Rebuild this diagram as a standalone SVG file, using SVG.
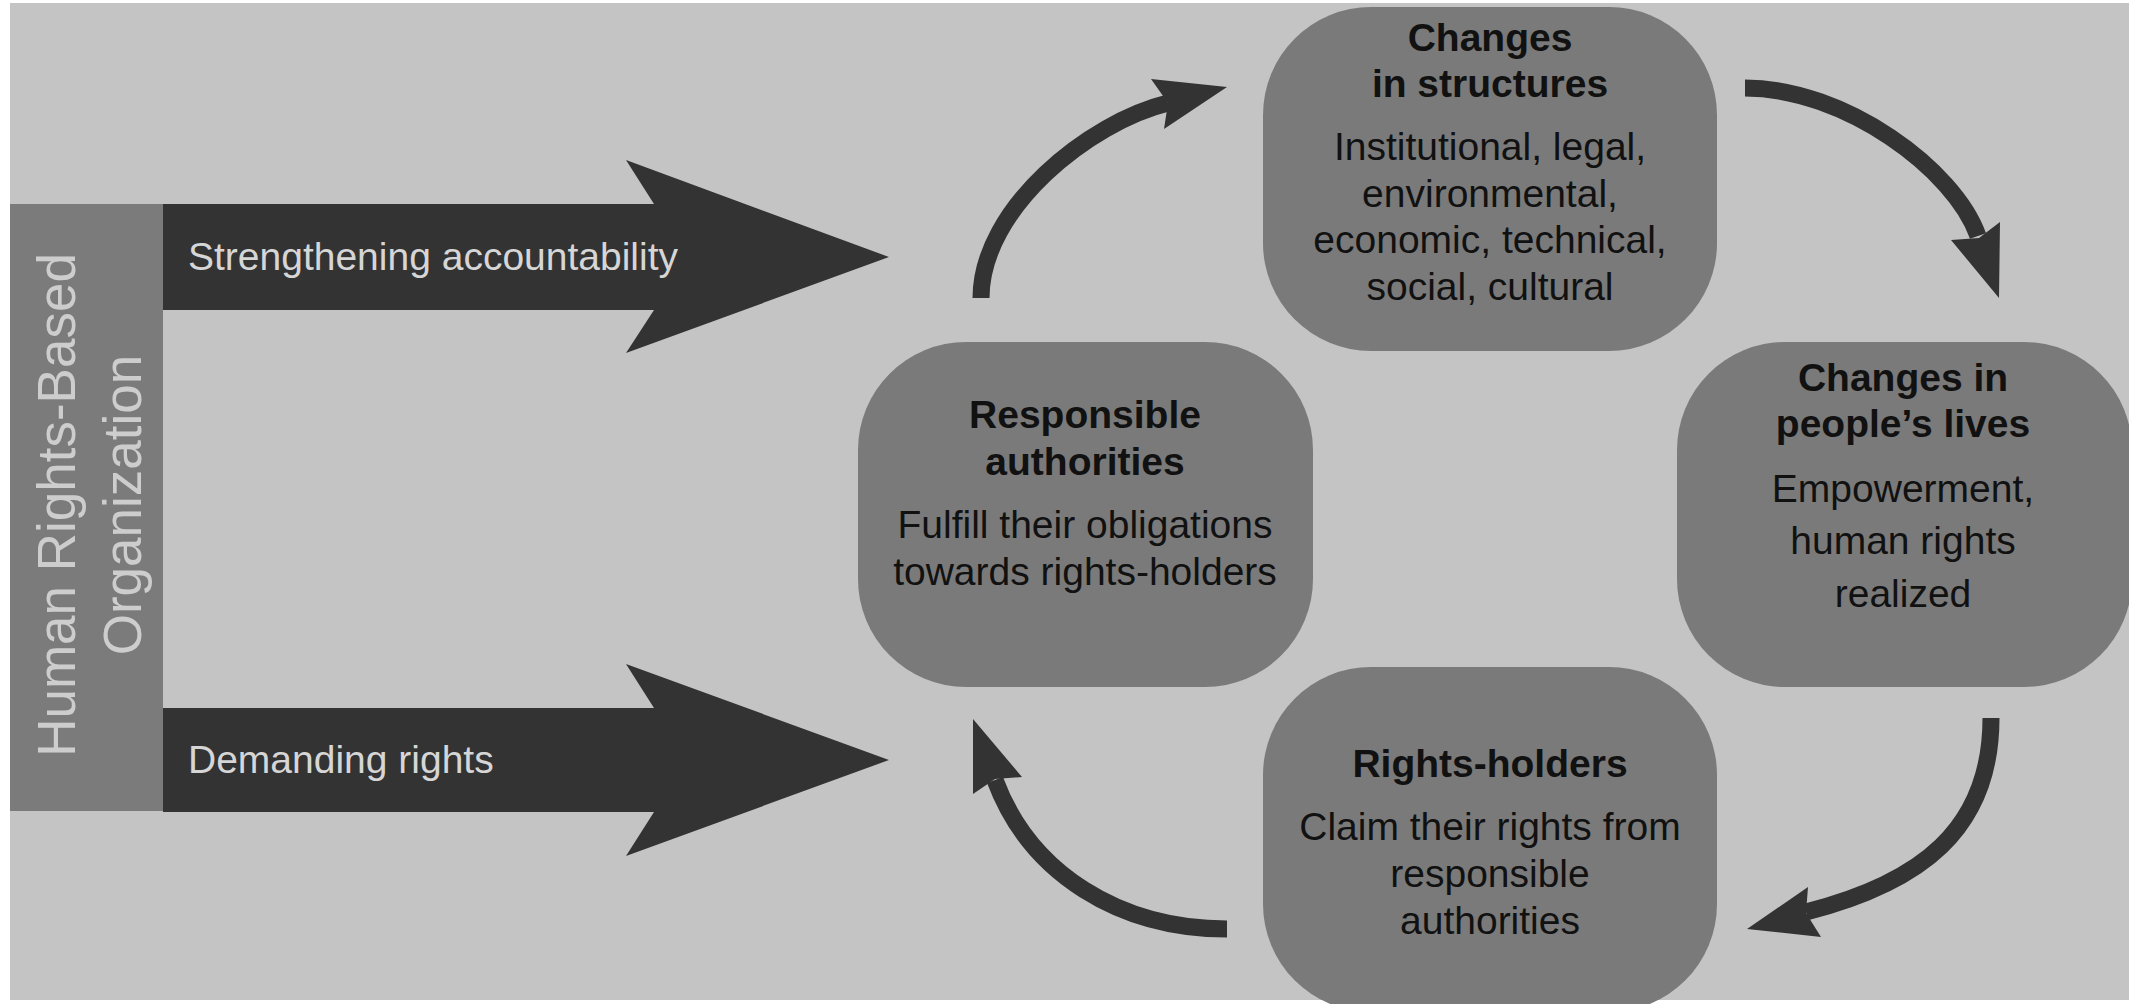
<svg xmlns="http://www.w3.org/2000/svg" width="2129" height="1004" viewBox="0 0 2129 1004">
<style>
.node{fill:#7a7a7a}
.title{font-family:"Liberation Sans",Arial,sans-serif;font-weight:bold;font-size:39px;fill:#111;text-anchor:middle}
.body{font-family:"Liberation Sans",Arial,sans-serif;font-size:39px;fill:#111;text-anchor:middle}
.big{fill:#333}
.bigtext{font-family:"Liberation Sans",Arial,sans-serif;font-size:39px;fill:#d6d6d6}
.shaft{fill:none;stroke:#333;stroke-width:17;stroke-linecap:butt}
.head{fill:#333}
.org{font-family:"Liberation Sans",Arial,sans-serif;font-size:53px;fill:#cdcdcd;text-anchor:middle}
</style>
<rect x="0" y="0" width="2129" height="1004" fill="#ffffff"/>
<rect x="10" y="3" width="2119" height="997" fill="#c4c4c4"/>

<g id="org">
<rect x="10" y="204" width="153" height="607" fill="#7b7b7b"/>
<g transform="translate(0,505) rotate(-90)">
<text class="org" x="0" y="75">Human Rights-Based</text>
<text class="org" x="0" y="141">Organization</text>
</g>
</g>

<g id="strengthening">
<polygon class="big" points="163,204 654,204 626,160 889,257 626,353 654,310 163,310"/>
<text class="bigtext" x="188" y="270">Strengthening accountability</text>
</g>

<g id="demanding">
<polygon class="big" points="163,708 654,708 626,664 889,760 626,856 654,812 163,812"/>
<text class="bigtext" x="188" y="773">Demanding rights</text>
</g>

<g id="structures">
<rect class="node" x="1263" y="7" width="454" height="344" rx="108" ry="108"/>
<text class="title" x="1490" y="51">Changes</text>
<text class="title" x="1490" y="97">in structures</text>
<text class="body" x="1490" y="160">Institutional, legal,</text>
<text class="body" x="1490" y="207">environmental,</text>
<text class="body" x="1490" y="253">economic, technical,</text>
<text class="body" x="1490" y="300">social, cultural</text>
</g>

<g id="authorities">
<rect class="node" x="858" y="342" width="455" height="345" rx="108" ry="108"/>
<text class="title" x="1085" y="428">Responsible</text>
<text class="title" x="1085" y="475">authorities</text>
<text class="body" x="1085" y="538">Fulfill their obligations</text>
<text class="body" x="1085" y="585">towards rights-holders</text>
</g>

<g id="lives">
<rect class="node" x="1677" y="342" width="455" height="345" rx="108" ry="108"/>
<text class="title" x="1903" y="391">Changes in</text>
<text class="title" x="1903" y="437">people’s lives</text>
<text class="body" x="1903" y="502">Empowerment,</text>
<text class="body" x="1903" y="554">human rights</text>
<text class="body" x="1903" y="607">realized</text>
</g>

<g id="holders">
<rect class="node" x="1263" y="667" width="454" height="345" rx="108" ry="108"/>
<text class="title" x="1490" y="777">Rights-holders</text>
<text class="body" x="1490" y="840">Claim their rights from</text>
<text class="body" x="1490" y="887">responsible</text>
<text class="body" x="1490" y="934">authorities</text>
</g>

<g id="connectors">
<path class="shaft" d="M981,298 C981,208 1090,122 1168,103"/>
<polygon class="head" points="1227,87 1151,79 1168,103 1164,129"/>
<path class="shaft" d="M1745,88 C1845,88 1955,170 1978,236"/>
<polygon class="head" points="1999,298 1951,240 1979,238 2000,222"/>
<path class="shaft" d="M1991,718 C1991,830 1920,883 1806,912"/>
<polygon class="head" points="1747,929 1808,887 1806,913 1821,937"/>
<path class="shaft" d="M1227,929 C1120,929 1030,874 995,780"/>
<polygon class="head" points="973,719 1022,777 995,779 973,794"/>
</g>
</svg>
